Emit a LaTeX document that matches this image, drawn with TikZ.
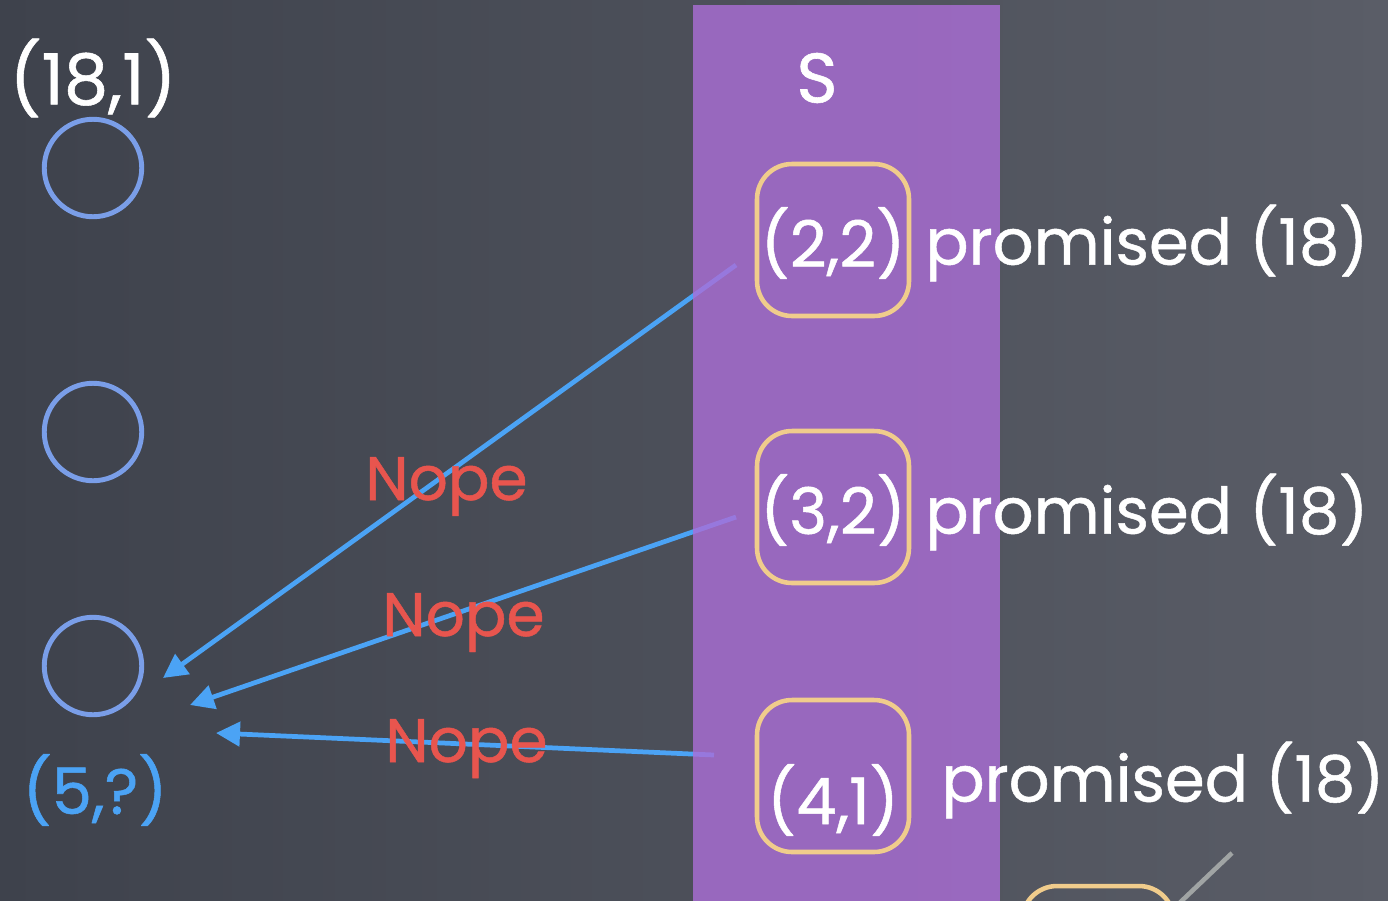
\documentclass[tikz,border=0pt]{standalone}
\usepackage{fontspec}
\setmainfont{Poppins}[FakeBold=0.8]
\usetikzlibrary{arrows.meta,positioning}
\definecolor{Board}{RGB}{62,66,76}
\definecolor{BoardLt}{RGB}{90,93,103}
\definecolor{Col}{RGB}{171,110,215}
\definecolor{Ring}{RGB}{122,158,232}
\definecolor{Pick}{RGB}{75,163,245}
\definecolor{Frame}{RGB}{240,204,140}
\definecolor{Nay}{RGB}{232,85,78}
\definecolor{Stub}{RGB}{160,164,164}
\tikzset{
  ring/.style={circle,draw=Ring,line width=2.8pt,minimum size=1.95cm,inner sep=0pt},
  pbox/.style={draw=Frame,line width=2.6pt,rounded corners=0.7cm,minimum width=3.04cm,minimum height=3.04cm,inner sep=0pt},
  ptxt/.style={text=white,font=\fontsize{36.5}{42}\selectfont,inner sep=0pt},
  stxt/.style={ptxt,font=\fontsize{40}{46}\selectfont},
  ntxt/.style={text=Nay,font=\fontsize{35}{42}\selectfont,inner sep=0pt,anchor=base west},
  parr/.style={-{Triangle[length=0.48cm,width=0.48cm]},draw=Pick,line width=2.7pt}
}

\begin{document}
\begin{tikzpicture}[x=0.02cm,y=-0.02cm]
\clip (0,0) rectangle (1388,900);
\shade[left color=Board,right color=BoardLt] (0,0) rectangle (1388,900);
% left column
\node[ptxt,font=\fontsize{40}{46}\selectfont] (top) at (93,78) {(18,1)};
\node[ring] (c1) at (93,168) {};
\node[ring] (c2) at (93,432) {};
\node[ring] (c3) at (93,666) {};
\node[ptxt,text=Pick] (ask) at (95,790) {(5,?)};
% S entries (positions only, drawn later)
\coordinate (b22c) at (833,240);
\coordinate (b32c) at (833,507);
\coordinate (b41c) at (833,776);
\coordinate (s1) at ([shift={(-97,25)}]b22c);
\coordinate (s2) at ([shift={(-97,10)}]b32c);
\coordinate (s3) at ([shift={(-119,-21)}]b41c);
\coordinate (e1) at ([shift={(70,12)}]c3.center);
\coordinate (e2) at ([shift={(97,39)}]c3.center);
\coordinate (e3) at ([shift={(123,67)}]c3.center);
\draw[parr] (s1) -- (e1);
\draw[parr] (s2) -- (e2);
\draw[parr] (s3) -- (e3);
% set S
\fill[Col,fill opacity=0.8] (693,5) rectangle (1000,905);
\node[stxt] (S) at (817,78) {S};
\node[pbox] (b22) at (b22c) {};
\node[pbox] (b32) at (b32c) {};
\node[pbox] (b41) at (b41c) {};
\node[ptxt] (t22) at (833,243) {(2,2)};
\node[ptxt] (t32) at (833,510) {(3,2)};
\node[ptxt] (t41) at (833,800) {(4,1)};
\node[ptxt,anchor=west] (p22) at (925,243) {promised (18)};
\node[ptxt,anchor=west] (p32) at (925,512) {promised (18)};
\node[ptxt,anchor=west] (p41) at (941,780) {promised (18)};
% rejections
\node[ntxt] (n1) at (365,500) {Nope};
\node[ntxt] (n2) at (382,636) {Nope};
\node[ntxt] (n3) at (385,762) {Nope};
% next entry, cut off
\node[pbox] (b5) at (1098,962) {};
\coordinate (g1) at (1232,853);
\coordinate (g2) at (1170,912);
\draw[Stub,line width=2.6pt] (g1) -- (g2);
\end{tikzpicture}
\end{document}
